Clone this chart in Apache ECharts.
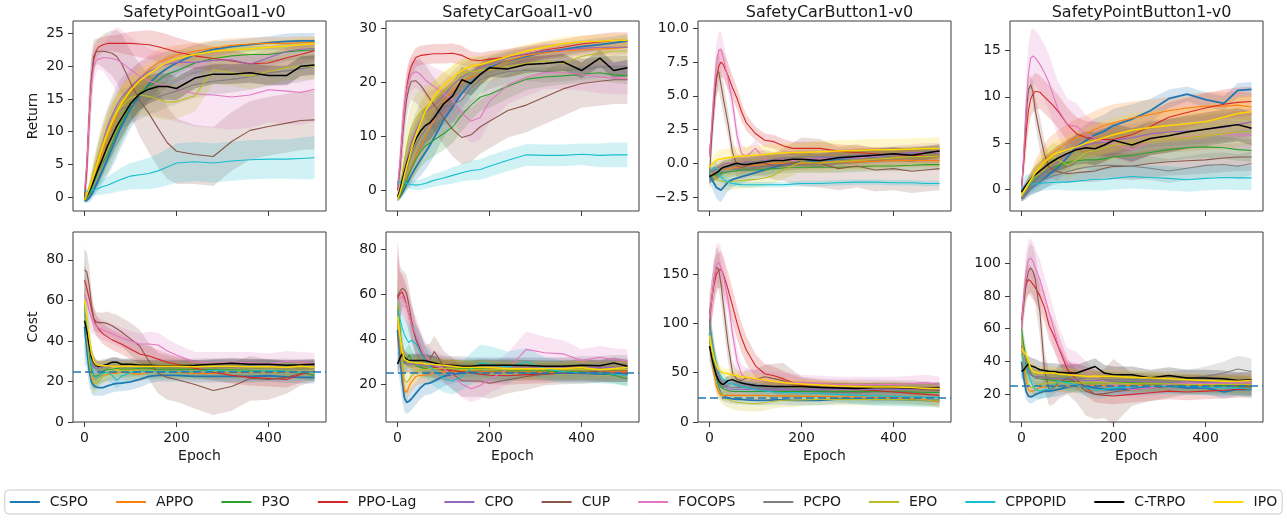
<!DOCTYPE html>
<html>
<head>
<meta charset="utf-8">
<script src="https://cdn.jsdelivr.net/npm/echarts@6/dist/echarts.min.js"></script>
<style>
  html, body { margin: 0; padding: 0; background: #ffffff; }
  #chart { width: 1287px; height: 520px; }
</style>
</head>
<body>
<div id="chart"></div>
<script>
// Training curves: mean episode return / cost per epoch with a shaded ±spread band.
// Every mean/spread row follows the order of `algorithms`.
// Points are grouped as: epochs 0-30 | 40-80 | 100-200 | 240-500.
const epochs = [0,5,10,15,20,25,30, 40,50,60,70,80, 100,120,140,160,180,200, 240,280,320,360,400,440,470,500];

const algorithms = ['CSPO','APPO','P3O','PPO-Lag','CPO','CUP','FOCOPS','PCPO','EPO','CPPOPID','C-TRPO','IPO'];
const algorithmColors = ['#1f77b4','#ff7f0e','#2ca02c','#d62728','#9467bd','#8c564b','#e377c2','#7f7f7f','#bcbd22','#17becf','#000000','#ffd700'];
const algorithmLineWidths = [1.8,1.1,1.1,1.1,1.1,1.1,1.1,1.1,1.1,1.1,1.5,1.5];

const envTitles = ['SafetyPointGoal1-v0','SafetyCarGoal1-v0','SafetyCarButton1-v0','SafetyPointButton1-v0'];
const costLimit = 25;

const epochTicks = [0, 200, 400];
const pointGoalReturnTicks = [0, 5, 10, 15, 20, 25];
const carGoalReturnTicks = [0, 10, 20, 30];
const carButtonReturnTicks = [-2.5, 0, 2.5, 5, 7.5, 10];
const pointButtonReturnTicks = [0, 5, 10, 15];
const pointGoalCostTicks = [0, 20, 40, 60, 80];
const carGoalCostTicks = [20, 40, 60, 80];
const carButtonCostTicks = [0, 50, 100, 150];
const pointButtonCostTicks = [20, 40, 60, 80, 100];

// ---------- SafetyPointGoal1-v0 : Return ----------
const pointGoalReturnMean = [
  [-0.6,-0.5,-0.2,0.3,1,1.8,2.6, 4.2,5.8,7.5,9.2,10.8, 13.5,15.5,17.3,18.7,19.7,20.5, 21.8,22.6,23,23.3,23.6,23.8,23.9,23.9],
  [-0.4,-0.1,0.5,1.5,2.6,3.7,4.8, 6.8,9,10.8,12.5,14, 16.5,18.2,19.5,20.5,21.2,21.7, 22.3,22.8,23.2,23.4,23.5,23.5,23.6,23.6],
  [-0.5,-0.2,0.4,1.2,2.1,3,3.9, 5.3,6.5,8.2,9.8,11.3, 14,15.8,17,17.8,18.8,19.3, 20.5,21.2,21.6,21.8,21.8,22.2,22.4,22.5],
  [0.2,4,12,18,21,22.3,22.9, 23.3,23.5,23.5,23.5,23.5, 23.5,23.4,23.3,23,22.6,22.2, 21.6,21.2,20.8,20.4,20.5,21.3,21.8,22.4],
  [-0.3,0.2,1,2.2,3.5,5,6.2, 8.5,10.8,12.5,14,15.2, 16.8,18.2,19.2,19.8,20.3,20.6, 20.6,20.9,21,20.3,21.3,22.3,22.6,22.7],
  [0,5,12,18,21.5,22.2,22.3, 22.3,22.2,22,21.5,20.5, 17.5,14.8,12.8,10.5,8.3,7, 6.5,6.2,8.5,10.2,10.8,11.3,11.7,11.8],
  [1,5,12,17,20,20.8,21.1, 21.3,21.3,21.2,21,20.6, 19.5,18.5,17.8,17.3,17,16.5, 15.8,15.6,15.3,15.6,16.4,16.2,16,16.5],
  [-0.5,0,0.8,2,3.3,4.6,5.8, 8,10,11.5,12.8,13.5, 14,14.5,15,15.3,15.8,16.2, 17.2,17.7,18,18.4,19,19.3,19.6,20],
  [-0.5,0.3,1.4,2.6,3.8,5,6.2, 8.3,10,11.5,12.8,13.8, 15.2,15.6,15.4,15,14.5,14.6, 15.5,19.5,19,18.5,19.2,19.8,20,20],
  [0.9,0.8,0.9,1,1.1,1.2,1.3, 1.6,1.8,2.1,2.4,2.7, 3.2,3.4,3.6,4,4.6,5.2, 5.4,5.2,5.5,5.7,5.8,5.8,5.9,6],
  [-0.3,0.2,0.8,1.6,2.5,3.4,4.3, 6,7.8,9.3,10.8,12, 14.3,15.8,16.5,16.9,16.9,16.6, 18.2,18.8,18.8,19,18.6,18.6,20,20.2],
  [-0.4,0.3,1.2,2.2,3.3,4.5,5.6, 7.8,9.8,11.5,13,14.3, 16.3,17.8,18.8,19.8,20.6,21.2, 21.8,22.3,22.5,22.7,22.9,23.1,23.3,23.5]
];
const pointGoalReturnSpread = [
  [0.3,0.4,0.6,0.8,1,1.3,1.6, 2,2.5,3,3.2,3.2, 3,2.8,2.5,2.2,2,1.8, 1.5,1.2,1,1,1,1.2,1.2,1.2],
  [0.3,0.5,0.8,1.2,1.6,2,2.3, 2.6,2.8,3,3,3, 2.8,2.5,2.2,2,1.8,1.5, 1.3,1.2,1.1,1,1,1,1,1],
  [0.3,0.5,0.8,1.2,1.6,2,2.3, 2.6,2.8,3,3,3, 2.8,2.6,2.4,2.2,2,1.8, 1.6,1.5,1.4,1.3,1.3,1.3,1.3,1.3],
  [0.3,3,4,3,2,1.5,1.3, 1.2,1.2,1.2,1.3,1.5, 1.8,2,2.2,2.3,2.3,2.2, 2,1.8,1.6,1.5,1.5,1.5,1.5,1.5],
  [0.3,0.5,0.9,1.3,1.7,2,2.3, 2.6,2.8,3,3,3, 2.8,2.5,2.2,2,2,2, 1.8,1.7,1.6,1.5,1.5,1.5,1.5,1.5],
  [0.3,3,5,4,2.5,2,2, 2.5,3,3.5,4,4.5, 5,5.5,6,6,5.5,5, 4.5,4.5,4.5,4.5,4.5,4.5,4.5,4.5],
  [0.5,3,5,4,2.5,2,1.5, 2,3,4,5,5, 5,5,5,5,5,5, 5,5,5,5,5,5,5,5],
  [0.3,0.5,0.9,1.3,1.7,2,2.3, 2.6,2.8,3,3,3, 2.8,2.6,2.4,2.2,2,2, 2,2,2,2,2,2,2,2],
  [0.3,0.6,1,1.5,2,2.5,3, 3.5,3.5,3.5,3.5,3, 3,3,3,3,2.8,2.6, 2.4,2.2,2,2,2,2,2,2],
  [0.4,0.5,0.6,0.7,0.8,0.9,1, 1.2,1.3,1.5,1.6,1.8, 2,2.2,2.4,2.6,2.8,3, 3,3,3,3,3,3,3.2,3.3],
  [0.3,0.5,0.9,1.3,1.7,2,2.3, 2.6,2.8,3,3,3, 2.8,2.5,2.2,2,2,1.8, 1.6,1.5,1.5,1.5,1.5,1.5,1.5,1.5],
  [0.3,0.5,0.9,1.3,1.7,2,2.3, 2.6,2.8,3,2.8,2.6, 2.2,2,1.8,1.6,1.4,1.3, 1.2,1.1,1,1,1,1,1,1]
];

// ---------- SafetyCarGoal1-v0 : Return ----------
const carGoalReturnMean = [
  [-1.5,-1.2,-0.5,0.3,1.2,2,2.8, 4.3,5.7,7,8.3,9.8, 13,15.5,18,20,21.5,22.8, 24,24.8,25.6,26.1,26.6,27,27.3,27.7],
  [-1.5,-1,0,1,2.2,3.2,4.2, 6.2,8,9.8,11.5,13.2, 16.3,18.5,20,21,21.5,22.5, 24,25,25.5,25.8,26,26.2,26.3,26.5],
  [-1.5,-1,0,1,2,3,4, 5.8,7.2,8.2,8.8,9.4, 10.5,11.8,14,15.8,17.3,17.8, 19.3,20.6,21,21.2,21.5,21.8,21.4,21.2],
  [0,4,10,15,19,21.5,23, 24.6,25,25.1,25.2,25.3, 25.3,25.4,25,24.2,24,24.3, 24.7,25.2,26,26.5,27.1,27.5,27.8,27.8],
  [-1.2,-0.2,1.5,3.5,5.5,7.2,8.8, 11,12.8,14.3,15.2,15.8, 17.5,19.5,21,22,22.8,23.3, 24.5,25.3,25.8,26,26.3,26.5,26.5,26.5],
  [0.5,4,9,13.5,17,19,20.2, 20.3,19.5,18.3,17,15.8, 13.5,11.3,9.8,10.3,11.8,12.8, 14.8,15.8,17.3,18.8,19.8,20.2,20.5,20.5],
  [0.5,5,10,15,18.5,20.5,21.5, 22,21.5,20.5,19.8,19.2, 18,16.8,14.3,12.8,13.5,16.5, 19.5,21,21.8,21.8,21.5,21,20.8,20.8],
  [-1.5,-0.5,1,2.5,4,5.3,6.5, 8.5,10,11.3,12.5,13.5, 15.5,15.8,16.8,19,20.5,21.2, 22,22.3,22,22.2,22.5,22.8,23,23],
  [-1.5,0,2.5,5.5,8,10,11.5, 13.3,14.5,15.3,16,16.8, 18.5,20,21.5,22,22.2,22.3, 23,23.5,24,23.5,24.8,25.5,25.8,25.8],
  [1.5,1.6,1.5,1.4,1.3,1.2,1.1, 1,1.1,1.3,1.6,1.9, 2.3,2.8,3.3,3.7,3.9,4.5, 5.6,6.6,6.5,6.5,6.7,6.5,6.6,6.6],
  [-1.2,0,1.8,3.5,5,6.3,7.5, 9.5,11,12,12.5,13.5, 16,17.5,20.5,19.8,21.5,22.7, 22.5,23.3,23.5,23.8,22.2,24.5,22.2,22.7],
  [-1.5,-0.5,1,2.8,4.5,6,7.5, 10.2,12.5,14.5,16,17.5, 19.5,21,22.2,23,23.3,23.8, 24.8,25.8,26.5,27.2,27.5,27.6,27.8,27.8]
];
const carGoalReturnSpread = [
  [0.5,0.6,0.8,1,1.3,1.6,2, 2.5,3,3.2,3.3,3.3, 3.2,3,2.8,2.5,2.2,2, 1.8,1.5,1.3,1.2,1.2,1.2,1.2,1.2],
  [0.5,0.7,1,1.4,1.8,2.2,2.5, 3,3.2,3.3,3.3,3.2, 3,2.8,2.5,2.2,2,1.8, 1.6,1.5,1.4,1.3,1.3,1.3,1.3,1.3],
  [0.5,0.7,1,1.4,1.8,2.2,2.5, 2.8,3,3,3,3, 3,3,3,2.8,2.6,2.5, 2.3,2,1.8,1.6,1.5,1.5,1.5,1.5],
  [0.5,3,4,3.5,3,2.5,2, 1.8,1.8,1.8,1.8,1.8, 1.8,1.8,1.8,1.5,1.5,1.5, 1.5,1.5,1.5,1.5,1.5,1.5,1.5,1.5],
  [0.5,1,1.8,2.5,3,3.2,3.4, 3.5,3.5,3.4,3.2,3, 2.8,2.6,2.4,2.2,2,1.8, 1.6,1.5,1.4,1.3,1.3,1.3,1.3,1.3],
  [0.5,3,4.5,4,3.5,3.5,3.5, 4,4.5,5,5,5, 5,5,5,5,5,5, 5,5,5,5,4.5,4.5,4.5,4.5],
  [0.5,3,4.5,4,3.5,3,3, 3,3,3,3.5,3.5, 4,4,4,4,4,3.8, 3.5,3.5,3,3,3,3,3,3],
  [0.5,1,1.5,2,2.5,3,3.3, 3.6,3.8,3.8,3.8,3.6, 3.4,3.2,3,2.8,2.6,2.4, 2.2,2,2,2,2,2,2,2],
  [0.5,1.5,2.5,3.5,4,4.5,4.5, 4.5,4.3,4,3.8,3.5, 3.2,3,2.8,2.6,2.4,2.2, 2,2,2,2,2,2,2,2],
  [0.8,0.8,0.8,0.8,0.8,0.8,0.8, 0.9,1,1,1.1,1.2, 1.3,1.5,1.6,1.8,1.9,2, 2,2,2,2,2,2.2,2.3,2.3],
  [0.5,1,1.8,2.5,3,3.2,3.4, 3.5,3.5,3.4,3.2,3, 2.8,2.6,2.4,2.2,2,1.8, 1.6,1.5,1.5,1.5,1.5,1.5,1.5,1.5],
  [0.5,1,1.8,2.5,3,3.2,3.4, 3.5,3.4,3.2,3,2.8, 2.5,2.2,2,1.8,1.6,1.5, 1.4,1.3,1.2,1.2,1.2,1.2,1.2,1.2]
];

// ---------- SafetyCarButton1-v0 : Return ----------
const carButtonReturnMean = [
  [-1,-1.2,-1.5,-1.8,-1.9,-2,-1.8, -1.4,-1.2,-1.1,-1,-0.9, -0.7,-0.5,-0.3,-0.1,0,0.1, 0.2,0.3,0.4,0.5,0.6,0.7,0.8,0.8],
  [-1,-0.8,-0.7,-0.6,-0.55,-0.5,-0.45, -0.4,-0.35,-0.3,-0.25,-0.2, -0.15,-0.1,0,0,0,0, 0.05,0.1,0.1,0.15,0.2,0.2,0.2,0.2],
  [-1,-0.95,-0.9,-0.85,-0.8,-0.75,-0.7, -0.65,-0.6,-0.55,-0.5,-0.5, -0.5,-0.45,-0.4,-0.35,-0.3,-0.3, -0.3,-0.3,-0.25,-0.2,-0.2,-0.15,-0.1,-0.1],
  [0.7,2.5,4.5,6.2,7.2,7.5,7.3, 6.5,5.6,4.8,3.8,3, 2.2,1.7,1.6,1.3,1.1,1.1, 1.1,0.9,0.8,0.7,0.6,0.6,0.5,0.5],
  [-1,-0.7,-0.5,-0.4,-0.3,-0.2,-0.1, 0,0,0,0,0.1, 0.1,0.2,0.2,0.3,0.3,0.3, 0.4,0.5,0.6,0.6,0.7,0.8,0.8,0.9],
  [-1,2,4.5,6.5,6.8,5.8,4.8, 3,0.8,-0.2,-0.3,-0.2, 0,0,-0.2,-0.1,0,0.1, 0,-0.4,-0.2,-0.5,-0.4,-0.6,-0.5,-0.4],
  [0.5,3,5.5,7.5,8.4,8.4,7.8, 6.3,4.5,2,0.7,0.5, 1.1,0.3,0.2,0.3,0.2,0.3, 0.3,0.4,0.4,0.5,0.6,0.7,0.8,0.8],
  [-1,-0.9,-0.8,-0.7,-0.6,-0.5,-0.4, -0.3,-0.2,-0.1,0,0, 0.1,0.2,0.3,0.4,0.4,0.5, 0.5,0.5,0.6,0.6,0.6,0.7,0.7,0.7],
  [-0.6,-0.8,-1,-1.2,-1.3,-1.3,-1.35, -1.4,-1.35,-1.3,-1.3,-1.25, -1.2,-1.1,-0.9,-0.5,-0.2,0.1, 0,0.1,0.2,0.3,0.4,0.5,0.5,0.5],
  [-0.8,-0.5,-0.3,-0.4,-0.7,-1,-1.2, -1.4,-1.5,-1.55,-1.6,-1.6, -1.6,-1.6,-1.6,-1.6,-1.55,-1.5, -1.5,-1.45,-1.4,-1.4,-1.45,-1.45,-1.5,-1.5],
  [-1,-0.9,-0.8,-0.7,-0.6,-0.4,-0.3, -0.2,-0.1,0,-0.1,-0.1, 0,0.1,0.2,0.2,0.3,0.3, 0.2,0.4,0.5,0.6,0.7,0.6,0.75,0.9],
  [-0.3,-0.1,0.1,0.2,0.3,0.3,0.35, 0.4,0.45,0.5,0.5,0.55, 0.6,0.65,0.7,0.75,0.8,0.8, 0.85,0.9,0.95,1,1,1.05,1.1,1.1]
];
const carButtonReturnSpread = [
  [0.5,0.6,0.7,0.8,0.9,0.9,0.8, 0.7,0.6,0.5,0.5,0.5, 0.5,0.5,0.5,0.5,0.5,0.5, 0.5,0.5,0.5,0.5,0.5,0.5,0.5,0.5],
  [0.5,0.5,0.5,0.5,0.5,0.5,0.5, 0.5,0.5,0.5,0.5,0.5, 0.5,0.5,0.5,0.5,0.5,0.5, 0.5,0.5,0.5,0.5,0.5,0.5,0.5,0.5],
  [0.4,0.4,0.4,0.4,0.4,0.4,0.4, 0.4,0.4,0.4,0.4,0.4, 0.4,0.4,0.4,0.4,0.4,0.4, 0.4,0.4,0.4,0.4,0.4,0.4,0.4,0.4],
  [0.3,1,1.3,1.3,1.2,1.1,1, 1,0.9,0.8,0.7,0.6, 0.5,0.5,0.5,0.5,0.5,0.5, 0.5,0.5,0.5,0.5,0.5,0.5,0.5,0.5],
  [0.5,0.5,0.5,0.5,0.5,0.5,0.5, 0.5,0.5,0.5,0.5,0.5, 0.5,0.5,0.5,0.5,0.5,0.5, 0.5,0.5,0.5,0.5,0.5,0.5,0.5,0.5],
  [1.2,1.5,1.5,1.5,1.4,1.3,1.2, 1,0.9,0.9,0.9,0.9, 0.9,1,1,1.2,1.5,1.8, 1.8,1.6,1.6,1.6,1.6,1.6,1.6,1.6],
  [0.5,1,1.3,1.4,1.4,1.3,1.2, 1,0.9,0.8,0.7,0.6, 0.6,0.5,0.5,0.6,0.7,0.7, 0.7,0.7,0.7,0.7,0.7,0.7,0.7,0.7],
  [0.5,0.5,0.5,0.5,0.5,0.5,0.5, 0.5,0.5,0.5,0.5,0.5, 0.5,0.5,0.5,0.5,0.5,0.5, 0.5,0.5,0.5,0.5,0.5,0.5,0.5,0.5],
  [0.4,0.5,0.6,0.6,0.6,0.6,0.6, 0.6,0.6,0.6,0.6,0.6, 0.6,0.6,0.6,0.7,0.7,0.7, 0.7,0.7,0.7,0.7,0.7,0.7,0.7,0.7],
  [0.6,0.5,0.5,0.5,0.4,0.4,0.3, 0.3,0.2,0.2,0.2,0.2, 0.2,0.2,0.2,0.2,0.2,0.2, 0.2,0.2,0.2,0.2,0.2,0.2,0.2,0.2],
  [0.5,0.5,0.5,0.5,0.5,0.5,0.5, 0.5,0.5,0.5,0.5,0.5, 0.5,0.5,0.5,0.5,0.5,0.5, 0.5,0.5,0.5,0.5,0.5,0.5,0.5,0.5],
  [0.3,0.4,0.5,0.6,0.7,0.7,0.7, 0.7,0.7,0.7,0.7,0.7, 0.7,0.7,0.7,0.7,0.7,0.7, 0.8,0.8,0.8,0.8,0.8,0.8,0.8,0.8]
];

// ---------- SafetyPointButton1-v0 : Return ----------
const pointButtonReturnMean = [
  [-1,-0.8,-0.5,-0.2,0.1,0.3,0.5, 0.8,1.2,1.6,2,2.4, 3.5,4.6,5.3,5.9,6.3,6.9, 7.6,8.5,9.8,10.3,9.7,9.3,10.7,10.8],
  [-1,-0.5,0,0.5,1,1.4,1.8, 2.5,3.1,3.6,4,4.4, 5.1,5.6,6,6.5,6.9,7.2, 7.7,8.1,8.5,8.8,9,9,9.1,8.9],
  [-1,-0.6,-0.2,0.2,0.5,0.8,1.1, 1.5,1.9,2.2,2.4,2.6, 2.9,3.1,3.2,3.2,3.3,3.5, 3.7,4,4.3,4.5,4.6,4.5,4.3,4.2],
  [0.3,3,6,8.5,9.8,10.3,10.6, 10.5,10,9.5,9,8.4, 7,6,5.6,5.5,5.4,5.4, 5.9,6.8,7.8,8.3,8.8,9.2,9.4,9.5],
  [-1,-0.7,-0.3,0,0.3,0.6,0.9, 1.4,1.8,2.2,2.6,3, 3.8,4.4,4.8,5,5.1,5.3, 5.6,6,6.2,6.3,6.5,6.7,7,7.3],
  [-0.3,3.5,8,10.8,11.3,10.5,8.5, 6,3.8,2.4,2.1,1.9, 1.7,1.8,1.9,2,2.3,2.5, 2.5,2.8,3,3.1,3.2,3.4,3.5,3.5],
  [0,4,9,12.5,14.2,14.4,14.2, 13.5,12.6,11.5,10,8.6, 7,6.8,6,5.5,5.2,4.9, 4.3,5.2,5.5,5.7,5.8,6,5.9,5.8],
  [-1,-0.8,-0.5,-0.2,0.1,0.3,0.5, 0.8,1.1,1.3,1.5,1.6, 1.9,2.2,2.4,2.5,2.6,2.6, 2.5,2.3,2,2.3,2.6,2.7,2.5,2.8],
  [-0.8,-0.4,0,0.5,1,1.4,1.8, 2.4,2.9,3.3,3.5,3.2, 2.6,3.2,4,4.2,4.5,4.8, 5,5.2,5.5,5.6,5.8,6,6.2,6.3],
  [0,0.3,0.5,0.55,0.6,0.6,0.6, 0.65,0.7,0.75,0.75,0.8, 0.8,0.9,1,1.1,1.1,1.2, 1.4,1.3,1.2,1.05,1.2,1.3,1.25,1.25],
  [-0.3,0.1,0.5,0.8,1.1,1.4,1.6, 2,2.4,2.8,3.1,3.4, 3.9,4.3,4.5,4.4,4.8,5.3, 4.8,5.5,5.8,6.2,6.5,6.8,7,6.6],
  [-0.5,-0.2,0.2,0.6,1,1.4,1.8, 2.4,3,3.4,3.8,4, 4.3,4.6,5,5.3,5.6,5.9, 6.4,6.7,6.9,7.1,7.3,7.8,8.2,8.4]
];
const pointButtonReturnSpread = [
  [0.3,0.4,0.5,0.6,0.7,0.8,0.9, 1,1.1,1.2,1.3,1.4, 1.5,1.6,1.7,1.8,1.8,1.8, 1.6,1.3,1,0.8,0.8,0.8,0.8,0.8],
  [0.3,0.5,0.7,0.9,1,1.2,1.4, 1.6,1.8,2,2,2, 2,2,2,2,2,2, 1.8,1.6,1.5,1.5,1.5,1.5,1.5,1.5],
  [0.3,0.4,0.5,0.6,0.7,0.8,0.9, 1,1,1,1,1, 1,1,1,1.1,1.2,1.2, 1.2,1.2,1.2,1.2,1.2,1.2,1.2,1.2],
  [0.5,1.5,2.2,2.2,2,2,2, 1.8,1.8,1.8,1.8,1.8, 1.8,1.8,1.8,1.8,1.8,1.8, 1.6,1.6,1.6,1.6,1.6,1.6,1.6,1.6],
  [0.3,0.4,0.5,0.6,0.7,0.8,0.9, 1,1.1,1.2,1.2,1.3, 1.4,1.5,1.5,1.5,1.5,1.5, 1.5,1.5,1.5,1.5,1.5,1.5,1.5,1.5],
  [0.5,1.5,1.5,1.3,1,1.2,1.5, 1.8,1.5,1.2,1,1, 1,1,1.1,1.2,1.3,1.4, 1.5,1.5,1.5,1.5,1.5,1.5,1.5,1.5],
  [0.5,2,3,3,3,3,3, 3,3,3,3,3, 2.8,2.5,2,1.8,1.6,1.5, 1.5,1.5,1.5,1.5,1.5,1.5,1.5,1.5],
  [0.3,0.4,0.5,0.6,0.7,0.8,0.9, 1,1,1,1,1, 1.1,1.2,1.3,1.3,1.3,1.3, 1.3,1.3,1.3,1.3,1.3,1.3,1.3,1.3],
  [0.3,0.4,0.5,0.6,0.7,0.8,0.9, 1,1.2,1.4,1.5,1.5, 1.5,1.5,1.5,1.5,1.5,1.5, 1.5,1.5,1.5,1.5,1.5,1.5,1.5,1.5],
  [0.8,1,1.1,1.1,1,1,0.9, 0.8,0.8,0.8,0.8,0.8, 0.9,1,1.1,1.2,1.2,1.2, 1.3,1.3,1.3,1.3,1.3,1.3,1.3,1.3],
  [0.3,0.4,0.5,0.6,0.7,0.8,0.9, 1,1.1,1.2,1.3,1.4, 1.5,1.6,1.7,1.8,1.8,1.8, 1.8,1.8,1.8,1.8,1.8,1.8,1.8,1.8],
  [0.3,0.4,0.5,0.6,0.7,0.8,0.9, 1,1.1,1.2,1.3,1.4, 1.5,1.6,1.7,1.8,1.8,1.8, 1.8,1.8,1.8,1.8,1.8,1.8,1.8,1.8]
];

// ---------- SafetyPointGoal1-v0 : Cost ----------
const pointGoalCostMean = [
  [47,36,26,20,18,17.3,17, 17,17.8,18.5,19,19.2, 19.8,21,22.5,23,23,23, 22.5,22.5,22.5,22.5,22.8,22.3,22,22],
  [58,45,32,24,21,21,22, 23,23.5,24,24,24.5, 24,23.5,24.5,25,25,24.5, 24,24,24.5,24.5,24.3,24.5,24.5,24.5],
  [57,45,33,26,23,22.5,23, 25,26,26,26.5,26, 26,26.5,26.5,26,26,26, 26,25.8,25.8,25.5,25.3,25,24.5,23],
  [70,66,61,56,51,48,46, 43.5,42,40.5,39.5,38.5, 36,33.5,32.5,31,29.5,28.5, 26.5,24.5,23,22,21.5,21,23.5,25],
  [55,45,36,30,27,26.5,26.5, 27,27.5,27.5,27.5,27.5, 27.5,27.5,27.5,27.5,27.3,27.5, 27.5,27.5,27.3,27.3,27.5,27.3,27.5,27.5],
  [75,74,68,58,51,49.5,49, 49,48.5,47.5,46,44.5, 41,37.5,30,24,22,21, 18.5,15.5,17.5,21.5,21,22,24,25],
  [63,60,55,51,49,47.5,46.5, 45.5,44.5,43.5,42.5,41.5, 40,38.5,38.5,38,35,33, 29.5,29.5,29.5,29.5,28.8,30,29.5,29],
  [55,46,37,31,28,27,27, 27.5,28,28,28,28, 28,28,28,27.8,27.8,27.5, 27.8,28,27.8,27.8,27.5,27.8,27.5,27.5],
  [57,42,30,22,19,19,20, 22.5,24,25,25.5,25.5, 25.5,25.5,25.5,25,25,25, 25,25,25,25,25,24.8,24.5,24.5],
  [58,48,38,28,22.5,21.5,22, 24,24.5,23,20.5,22.5, 24.5,25,25,25,25,25, 25,25.5,25,25,25.2,25,24.5,24.5],
  [50,45,38,32,29.5,28,27.5, 27.8,28.5,29.5,29.5,28.5, 28.5,28,28,27.8,27.8,27.8, 28,28.5,29,28.5,28.5,28,28.2,28.5],
  [60,52,42,34,30,28.5,28, 27.8,27.8,27.5,27.5,27.5, 27.5,27.5,27.5,27.5,27.5,27.5, 27.3,27.5,27.5,27.3,27.3,27,27.5,27]
];
const pointGoalCostSpread = [
  [12,10,8,6,5,4.5,4, 4,4,4,4,4, 4,4,3.5,3,3,3, 3,3,3,3,3,3,3,3],
  [12,10,8,6,5,4,3.5, 3.5,3.5,3.5,3.5,3.5, 3.5,3.5,3,3,3,3, 3,3,3,3,3,3,3,3],
  [12,10,8,6,5,4,3.5, 3.5,3.5,3.5,3.5,3.5, 3.5,3.5,3,3,3,3, 3,3,3,3,3,3,3,3],
  [8,8,7,6,5,5,5, 5,5,5,5,5, 5,5,5,4.5,4.5,4, 4,4,4,4,4,4,4,4],
  [10,9,8,6,5,4,3.5, 3,3,3,3,3, 3,3,3,3,3,3, 3,3,3,3,3,3,3,3],
  [10,10,9,8,6,5,5, 5,6,6,7,7, 8,8,9,10,11,11, 12,12,12,11,10,8,6,5],
  [10,9,8,7,6,5,5, 5,5,5,5,5, 5,5,6,6,6,5.5, 5,5,5,5,5,5,5,5],
  [10,9,8,6,5,4,3.5, 3.5,3.5,3.5,3.5,3.5, 3.5,3.5,3.5,3.5,3.5,3.5, 3.5,3.5,3.5,3.5,3.5,3.5,3.5,3.5],
  [12,10,8,6,5,4,3.5, 3.5,3.5,3.5,3.5,3.5, 3.5,3.5,3.5,3.5,3.5,3.5, 3.5,3.5,3.5,3.5,3.5,3.5,3.5,3.5],
  [30,20,14,10,7,5,4, 4,4,4,4,4, 4,4,4,4,4,4, 4,5,5,5,5,5,4,4],
  [8,7,6,4,3,2.5,2.5, 2.5,2.5,2.5,2.5,2.5, 2.5,2.5,2.5,2.5,2.5,2.5, 2.5,2.5,2.5,2.5,2.5,2.5,2.5,2.5],
  [8,7,6,4,3,2.5,2.5, 2.5,2.5,2.5,2.5,2.5, 2.5,2.5,2.5,2.5,2.5,2.5, 2.5,2.5,2.5,2.5,2.5,2.5,2.5,2.5]
];

// ---------- SafetyCarGoal1-v0 : Cost ----------
const carGoalCostMean = [
  [44,33,22,14,12,12.5,13.5, 16,18.5,20.2,20.5,21.5, 23.5,24.5,25,25.5,25.8,25.5, 25.5,25.2,25,25,25,24.5,24.5,24.5],
  [48,38,27,17,16.5,19,21, 23.5,24,24,24.5,25, 25.5,25.5,26,26,25.8,25.5, 25.5,25.5,25.3,25.3,25.5,25.5,25.5,25.5],
  [55,45,35,29,31,33,31, 28.5,27.5,27,27,27, 27,27,27,27,27,26.5, 26,26,26,25.5,25.5,25,24,22.5],
  [58,60,61,58.5,55,51,47, 40,35,30.5,28.5,27.5, 26.5,26,25.5,25,24.5,24, 23.8,24.3,24.5,25,25,25,25,25],
  [50,40,33,30,29,29,29, 29,28.5,28.5,28.5,28, 28,28,27.5,27.5,27.5,27.5, 27.5,27.5,27.5,27.5,27.5,27.5,27.5,27.5],
  [59,61,62.5,62,60,55,49, 40,35,30.5,31,34.5, 28,24.5,21.5,21.5,21.5,20.5, 22,23.5,24.5,25,25.3,25.8,26,26],
  [57.5,58,59,57,55,51,47, 42,37,33,30.5,29, 27,24,20,18,19.5,22, 27,35.5,34,33.5,30.5,32,31,30.5],
  [52,42,34,30,29,29,29, 29,29,29,29,29, 28.5,28.5,28.5,28,28,28, 28,28,28,28,28.5,28.5,29,29],
  [55,42,30,22,21,22,23.5, 25.5,26.5,26.5,27,27, 27,27,26.5,26.5,26.5,26.5, 26.5,26.5,26.5,26.5,26.5,26.5,26.5,26.5],
  [53,49,45,42,40,38.5,39.5, 38,34,30.5,28,26, 22.5,21.5,23.5,27,29.5,29, 27.5,30,27,25.5,25,25,24.5,24],
  [29,31.5,33.5,32,31,30.5,30.5, 30.5,30.5,30.5,30,29.5, 28.5,28.5,28,28,28.5,28.5, 28.5,28.3,28,28,28.5,28.2,29.5,28],
  [50,42,35,31,30.5,30,29.8, 29.5,29.5,29,29,28.8, 28.5,28,27.5,27.5,27.5,27.5, 27,27,27,27,27.5,26.5,27,27.5]
];
const carGoalCostSpread = [
  [15,12,9,6,5,5,5, 5,5,5,5,5, 4.5,4,4,4,4,4, 4,3.5,3.5,3.5,3.5,3.5,3.5,3.5],
  [12,10,8,5,4,4,4, 4,4,4,4,4, 4,4,4,4,4,4, 4,3.5,3.5,3.5,3.5,3.5,3.5,3.5],
  [12,10,8,6,5,5,5, 4,4,4,4,4, 4,4,4,4,4,4, 4,3.5,3.5,3.5,3.5,3.5,3.5,3.5],
  [20,10,8,8,8,8,8, 7,7,6,5,5, 4,4,4,4,4,4, 4,4,4,4,4,4,4,4],
  [10,8,6,5,4,4,4, 4,4,4,4,4, 4,4,4,4,4,4, 4,4,4,4,4,4,4,4],
  [25,12,8,8,8,8,8, 8,8,7,7,7, 7,7,7,7,7,7, 6,6,5,5,5,5,5,5],
  [25,12,8,8,8,8,8, 8,7,6,6,6, 6,6,6,6,6,6, 7,8,7,6,5,5,5,5],
  [10,8,6,5,4,4,4, 4,4,4,4,4, 4,4,4,4,4,4, 4,4,4,4,4,4,4,4],
  [20,12,8,6,5,5,5, 4,4,4,4,4, 4,4,4,4,4,4, 4,4,4,4,4,4,4,4],
  [10,9,8,8,8,8,8, 8,8,7,7,7, 6,6,6,7,8,8, 7,6,5,5,4.5,4.5,4.5,4.5],
  [5,4,4,3,3,3,3, 3,3,3,3,3, 2.5,2.5,2.5,2.5,2.5,2.5, 2.5,2.5,2.5,2.5,2.5,2.5,2.5,2.5],
  [10,8,6,4,3,3,3, 3,3,3,3,3, 3,3,3,3,3,3, 3,3,3,3,3,3,3,3]
];

// ---------- SafetyCarButton1-v0 : Cost ----------
const carButtonCostMean = [
  [90,72,55,42,34,29,26, 24.5,23.5,23,23,22.5, 22,22,22.5,22.5,22,22, 22,23.5,23.5,23,23,22.5,22,22],
  [85,65,48,36,30,27,27, 27,27,27,27,27, 27,27,26.5,26.5,26.5,26, 26,25.5,25.5,25,25,24,22.5,20],
  [100,80,62,48,40,36,34, 32,31,31,31,31, 31,31,31,31,31,31, 31,31,31,31,31,30.5,30,30],
  [110,125,140,150,154,155,150, 135,118,100,85,73, 57,49,47,44,40,37, 35,34,33,32,30.5,29,28,27],
  [100,82,66,54,46,40,37, 34,33,33,33,33, 33,33,33,33,33,33, 33,33,33,33,33,33,33,33],
  [100,125,145,157,155,140,120, 80,50,43,42,45, 43,46,44,42,38,36, 36,35,35,35,34.5,34,33,32],
  [105,125,145,160,162,157,148, 125,90,62,48,45, 43,42,41,40,40,40, 39,38,38,38,38,39,40,38],
  [100,85,70,58,49,42,38, 36,35,35,35,35, 35,34.5,34.5,34.5,34,34, 34,34,34,34,34,34,34,34],
  [90,70,52,40,33,29,26, 23,21,20,19.5,19, 18.5,19.5,21,22,22,22.5, 23,23,23,23,23,22.5,22,22],
  [92,80,68,58,51,46,43, 40,38.5,37,36,35, 33,31.5,30.5,30,30,29.5, 29,28,27,26.5,26,25.5,25,25],
  [77,65,55,47,42,39,38, 42,43,41,39.5,38.5, 37,36.5,36,36,36,36, 35,34.5,34,35,35,34.5,34,35],
  [88,75,64,57,53,51,50, 49,48,47,46,45.5, 44,42.5,41,40,39,38.5, 37.5,36.5,36,35.5,35.5,35,34,34]
];
const carButtonCostSpread = [
  [15,12,10,8,6,5,5, 5,5,5,5,5, 5,5,5,5,5,5, 5,5,5,5,5,5,5,5],
  [15,12,10,8,6,5,5, 5,5,5,5,5, 5,5,5,5,5,5, 5,5,5,5,5,5,5,6],
  [20,15,12,10,8,7,6, 6,6,6,6,6, 6,6,6,6,6,6, 6,6,6,6,6,6,6,6],
  [20,22,22,20,18,18,18, 18,17,16,15,14, 12,10,9,8,8,8, 7,7,7,7,7,7,7,7],
  [20,15,12,10,8,7,6, 6,6,6,6,6, 6,6,6,6,6,6, 6,6,6,6,6,6,6,6],
  [20,20,20,20,20,20,20, 18,12,10,8,8, 10,12,15,18,15,10, 8,8,8,8,8,8,8,8],
  [20,20,20,20,20,20,18, 16,15,12,10,10, 10,10,10,10,9,8, 8,8,8,8,8,8,8,8],
  [20,15,12,10,8,7,6, 6,6,6,6,6, 6,6,6,6,6,6, 6,6,6,6,6,6,6,6],
  [15,12,10,10,10,9,9, 8,8,8,8,8, 8,8,7,7,7,6, 6,6,6,6,6,6,6,6],
  [20,15,12,10,8,7,6, 6,6,6,6,6, 6,6,6,6,6,6, 7,8,9,10,10,10,10,10],
  [15,12,10,8,6,5,5, 5,5,5,5,5, 5,5,5,5,5,5, 5,5,5,5,5,5,5,5],
  [15,12,10,8,6,5,5, 5,5,5,5,5, 5,5,5,5,5,5, 5,5,5,5,5,5,5,5]
];

// ---------- SafetyPointButton1-v0 : Cost ----------
const pointButtonCostMean = [
  [40,30,22,19,18.5,19,20, 21,22,22,22.5,23, 24.5,26,25,24,23,23, 23.5,24.5,25,24,24,21.5,23,23],
  [50,38,28,23,22,22,23, 24,24.5,25,25,25.5, 25,25,25.5,25.5,25.5,25.5, 25.5,25.5,25.5,25.5,25.5,25.5,25,24.5],
  [60,50,42,36,33,31,30, 29.5,29,29,28.5,28, 28,27.5,27,27,27,27, 27,26.5,26.5,26,26,25.5,25,24.5],
  [65,78,87,90,89,87,85, 80,73,62,56,49, 35,29,24,20,19.5,19, 20,21,22,21.5,22,22.5,23,23],
  [55,45,38,34,32,31,30.5, 30,30,30,29.5,29.5, 29,29,28.5,28.5,28.5,28, 28,28,27.5,27.5,27.5,27.5,28,28],
  [60,75,88,95,97,95,90, 70,35,23,24,27, 30,27,22,20,20.5,21.5, 23,24,25,26,26,26,25.5,25],
  [60,80,95,102,103,101,97, 90,80,70,60,50, 38,38,34,30,28,26, 23,24,26,27,26.5,27,27,27],
  [50,42,36,33,32,31.5,31, 31,30.5,30.5,30,30, 30,30,29.5,29.5,29,29, 29,29,29,30,31,33,35.5,34],
  [55,42,32,26,24,24,25, 26,26.5,27,27,27, 27,27,27,27,27,27, 26.5,26.5,26.5,26,26,26,26,26],
  [45,40,36,32,28,25,23, 22,23,23,25,28, 27,26,24,22.5,23,24, 24.5,25,25,25,24.5,24,24,23],
  [34,35,37,38.5,37.5,37,36.5, 35,34.5,34,34,33.5, 33,33,35,37,33,32, 32,30,31.5,30,30,29.5,28.5,29],
  [48,46,44,40,36,34,33.5, 33,33,33,33,32.5, 32,31.5,31,31,31,31, 30.5,30,29.5,29,28.5,28,28,28.5]
];
const pointButtonCostSpread = [
  [8,6,5,4,4,4,4, 4,4,4,4,4, 4,4,4,4,4,4, 4,4,4,4,4,4,4,4],
  [8,6,5,4,4,4,4, 4,4,4,4,4, 4,4,4,4,4,4, 4,4,4,4,4,4,4,4],
  [10,8,6,5,5,5,5, 5,5,5,5,5, 5,5,5,5,5,5, 5,5,5,5,5,5,5,5],
  [8,9,9,9,9,9,9, 9,9,9,9,8, 7,6,5,5,5,5, 5,5,5,5,5,5,5,5],
  [8,7,6,5,5,5,5, 5,5,5,5,5, 5,5,5,5,5,5, 5,5,5,5,5,5,5,5],
  [8,10,12,14,15,15,15, 15,12,10,10,10, 10,12,15,15,15,20, 10,8,7,6,6,6,6,6],
  [8,10,12,12,12,12,12, 12,12,12,12,12, 10,8,6,5,5,5, 5,5,5,5,5,5,5,5],
  [8,7,6,5,5,5,5, 5,5,5,5,5, 5,5,5,5,5,5, 5,5,5,5,6,7,8,8],
  [8,7,6,5,5,5,5, 5,5,5,5,5, 5,5,5,5,5,5, 5,5,5,5,5,5,5,5],
  [12,10,8,6,5,5,5, 5,5,5,5,5, 5,5,5,5,5,5, 5,5,5,5,5,5,5,5],
  [5,5,5,5,5,5,5, 5,5,5,5,5, 5,5,5,5,5,5, 5,5,5,5,5,5,5,5],
  [6,5,4,4,4,4,4, 4,4,4,4,4, 4,4,4,4,4,4, 4,4,4,4,4,4,4,4]
];

// ---------- layout ----------
const FONT = 'DejaVu Sans';
const TEXT = '#1a1a1a';
const FRAME = '#3a3a3a';
const colLefts = [73, 386, 698, 1010];
const rowTops = [21, 232];
const plotW = 253, plotH = 190;

const panels = [
  { row: 0, col: 0, mean: pointGoalReturnMean,  spread: pointGoalReturnSpread,  ticks: pointGoalReturnTicks,  min: -2.14, max: 26.93, decimals: 0 },
  { row: 0, col: 1, mean: carGoalReturnMean,    spread: carGoalReturnSpread,    ticks: carGoalReturnTicks,    min: -3.79, max: 31.36, decimals: 0 },
  { row: 0, col: 2, mean: carButtonReturnMean,  spread: carButtonReturnSpread,  ticks: carButtonReturnTicks,  min: -3.54, max: 10.54, decimals: 1 },
  { row: 0, col: 3, mean: pointButtonReturnMean,spread: pointButtonReturnSpread,ticks: pointButtonReturnTicks,min: -2.32, max: 18.18, decimals: 0 },
  { row: 1, col: 0, mean: pointGoalCostMean,    spread: pointGoalCostSpread,    ticks: pointGoalCostTicks,    min: 0,     max: 93.7,  decimals: 0 },
  { row: 1, col: 1, mean: carGoalCostMean,      spread: carGoalCostSpread,      ticks: carGoalCostTicks,      min: 3.3,   max: 87.5,  decimals: 0 },
  { row: 1, col: 2, mean: carButtonCostMean,    spread: carButtonCostSpread,    ticks: carButtonCostTicks,    min: 0,     max: 192.8, decimals: 0 },
  { row: 1, col: 3, mean: pointButtonCostMean,  spread: pointButtonCostSpread,  ticks: pointButtonCostTicks,  min: 3.2,   max: 118.9, decimals: 0 }
];

function rgba(hex, a) {
  const n = parseInt(hex.slice(1), 16);
  return 'rgba(' + ((n >> 16) & 255) + ',' + ((n >> 8) & 255) + ',' + (n & 255) + ',' + a + ')';
}
function tickText(v, decimals) {
  return v.toFixed(decimals).replace('-', '\u2212');
}

const grids = [], xAxes = [], yAxes = [], series = [];

panels.forEach((p, i) => {
  grids.push({
    left: colLefts[p.col], top: rowTops[p.row], width: plotW, height: plotH,
    show: true, borderColor: FRAME, borderWidth: 1, backgroundColor: 'transparent',
    containLabel: false
  });
  xAxes.push({
    gridIndex: i, type: 'value', min: -25, max: 525,
    splitLine: { show: false },
    axisLine: { show: false, onZero: false },
    axisTick: { show: true, customValues: epochTicks, length: 5, lineStyle: { color: FRAME } },
    axisLabel: { show: p.row === 1, customValues: epochTicks, fontSize: 14, color: TEXT, fontFamily: FONT, margin: 9 },
    name: p.row === 1 ? 'Epoch' : '', nameLocation: 'middle', nameGap: 27,
    nameTextStyle: { fontSize: 14, color: TEXT, fontFamily: FONT }
  });
  yAxes.push({
    gridIndex: i, type: 'value', min: p.min, max: p.max,
    splitLine: { show: false },
    axisLine: { show: false, onZero: false },
    axisTick: { show: true, customValues: p.ticks, length: 5, lineStyle: { color: FRAME } },
    axisLabel: { customValues: p.ticks, fontSize: 14, color: TEXT, fontFamily: FONT, margin: 9,
                 formatter: (v) => tickText(v, p.decimals) },
    name: p.col === 0 ? (p.row === 0 ? 'Return' : 'Cost') : '',
    nameLocation: 'middle', nameGap: 33,
    nameTextStyle: { fontSize: 14, color: TEXT, fontFamily: FONT }
  });

  // shaded spread bands, underneath every mean curve
  algorithms.forEach((alg, k) => {
    const m = p.mean[k], s = p.spread[k];
    series.push({
      type: 'custom', xAxisIndex: i, yAxisIndex: i, silent: true, z: 1,
      data: epochs.map((x, j) => [x, m[j] - s[j], m[j] + s[j]]),
      encode: { x: 0, y: [1, 2] },
      renderItem: (params, api) => {
        if (params.dataIndex !== 0) return null;
        const pts = [];
        for (let j = 0; j < epochs.length; j++) pts.push(api.coord([epochs[j], m[j] + s[j]]));
        for (let j = epochs.length - 1; j >= 0; j--) pts.push(api.coord([epochs[j], m[j] - s[j]]));
        return { type: 'polygon', shape: { points: pts }, style: { fill: rgba(algorithmColors[k], 0.2) } };
      }
    });
  });

  // mean curves
  algorithms.forEach((alg, k) => {
    const m = p.mean[k];
    const line = {
      type: 'line', name: alg, xAxisIndex: i, yAxisIndex: i, z: 2 + k * 0.01,
      data: epochs.map((x, j) => [x, m[j]]),
      symbol: 'none', showSymbol: false, silent: true,
      lineStyle: { color: algorithmColors[k], width: algorithmLineWidths[k] },
      itemStyle: { color: algorithmColors[k] }
    };
    if (p.row === 1 && k === algorithms.length - 1) {
      line.markLine = {
        silent: true, symbol: 'none', label: { show: false },
        lineStyle: { color: '#1f77b4', type: [8, 4], width: 1.6 },
        data: [{ yAxis: costLimit }]
      };
    }
    series.push(line);
  });
});

const chart = echarts.init(document.getElementById('chart'), null, { renderer: 'canvas' });
chart.setOption({
  animation: false,
  backgroundColor: '#ffffff',
  textStyle: { fontFamily: FONT },
  title: envTitles.map((t, c) => ({
    text: t, left: colLefts[c] + plotW / 2, top: 0, textAlign: 'center',
    textStyle: { fontSize: 16, fontWeight: 'normal', color: TEXT, fontFamily: FONT }
  })),
  legend: {
    data: algorithms, left: 'center', top: 490, orient: 'horizontal',
    icon: 'rect', itemWidth: 30, itemHeight: 2, itemGap: 28,
    textStyle: { fontSize: 14, color: TEXT, fontFamily: FONT, padding: [0, 0, 0, 5] },
    borderColor: '#cccccc', borderWidth: 1, borderRadius: 4, padding: [5, 5],
    selectedMode: false
  },
  grid: grids,
  xAxis: xAxes,
  yAxis: yAxes,
  series: series
});
</script>
</body>
</html>
